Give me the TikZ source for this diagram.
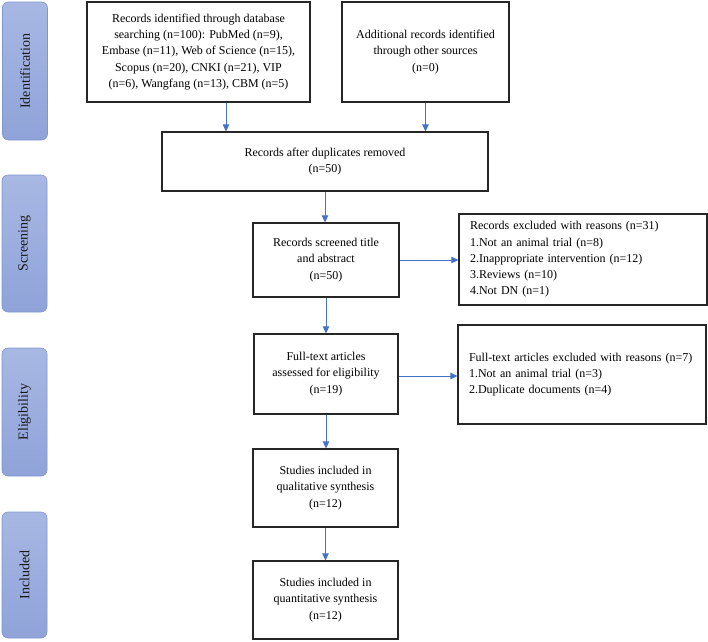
\documentclass[tikz,border=0pt]{standalone}
\usepackage{fontspec}
\setmainfont{Liberation Serif}
\usetikzlibrary{arrows.meta}
\definecolor{arrowblue}{HTML}{4472C4}
\definecolor{sidetop}{HTML}{A8B8E3}
\definecolor{sidebot}{HTML}{8FA3D9}
\definecolor{sideedge}{HTML}{8096D0}
\begin{document}
\begin{tikzpicture}[x=1pt,y=-1pt,
  box/.style={draw=black!85, line width=1.2pt, align=center, inner sep=0pt,
    font=\fontsize{12}{16.3}\selectfont},
  lbox/.style={draw=black!85, line width=1.2pt, align=left, inner xsep=11pt, inner ysep=0pt,
    font=\fontsize{12}{16.3}\selectfont},
  side/.style={draw=sideedge, line width=0.6pt, rounded corners=6pt, top color=sidetop, bottom color=sidebot,
    minimum width=45pt, inner sep=0pt, font=\fontsize{14}{16}\selectfont, text=black!90},
  arr/.style={draw=arrowblue, line width=0.8pt, -{Triangle[length=7pt,width=6.5pt]}}
]
\useasboundingbox (0,0) rectangle (708,641);

% side labels
\node[side, minimum height=138pt] (sid) at (25,71) {\rotatebox{90}{Identification}};
\node[side, minimum height=137pt] (ssc) at (24.5,243.5) {\rotatebox{90}{Screening}};
\node[side, minimum height=128pt] (sel) at (24.5,412) {\rotatebox{90}{Eligibility}};
\node[side, minimum height=126pt] (sin) at (24.5,575) {\rotatebox{90}{Included}};

% boxes
\node[box, minimum width=223pt, minimum height=100pt] (db) at (198.5,52)
  {Records identified through database\\searching (n=100): PubMed (n=9),\\Embase (n=11), Web of Science (n=15),\\Scopus (n=20), CNKI (n=21), VIP\\(n=6), Wangfang (n=13), CBM (n=5)};
\node[box, minimum width=167pt, minimum height=100pt] (add) at (425.5,52)
  {Additional records identified\\through other sources\\(n=0)};
\node[box, minimum width=326pt, minimum height=59pt] (dup) at (325,161.5)
  {Records after duplicates removed\\(n=50)};
\node[box, minimum width=146pt, minimum height=74pt] (scr) at (326,260)
  {Records screened title\\and abstract\\(n=50)};
\node[lbox, text width=226pt, minimum height=91pt] (exa) at (583,259.5)
  {Records excluded with reasons (n=31)\\1.Not an animal trial (n=8)\\2.Inappropriate intervention (n=12)\\3.Reviews (n=10)\\4.Not DN (n=1)};
\node[box, minimum width=144pt, minimum height=80pt] (full) at (326,374)
  {Full-text articles\\assessed for eligibility\\(n=19)};
\node[lbox, text width=226pt, minimum height=99pt] (exb) at (582,374.5)
  {Full-text articles excluded with reasons (n=7)\\1.Not an animal trial (n=3)\\2.Duplicate documents (n=4)};
\node[box, minimum width=145pt, minimum height=78pt] (qual) at (325.5,488)
  {Studies included in\\qualitative synthesis\\(n=12)};
\node[box, minimum width=145pt, minimum height=78pt] (quant) at (325.5,600)
  {Studies included in\\quantitative synthesis\\(n=12)};

% connectors
\draw[arr] ([xshift=27.5pt]db.south) -- ([xshift=27.5pt]db.south |- dup.north);
\draw[arr] (add.south) -- (add.south |- dup.north);
\draw[arr] (dup.south) -- (dup.south |- scr.north);
\draw[arr] (scr.east) -- (scr.east -| exa.west);
\draw[arr] (scr.south) -- (scr.south |- full.north);
\draw[arr] ([yshift=-2pt]full.east) -- ([yshift=-2pt]full.east -| exb.west);
\draw[arr] (full.south) -- (full.south |- qual.north);
\draw[arr] (qual.south) -- (qual.south |- quant.north);
\end{tikzpicture}
\end{document}
